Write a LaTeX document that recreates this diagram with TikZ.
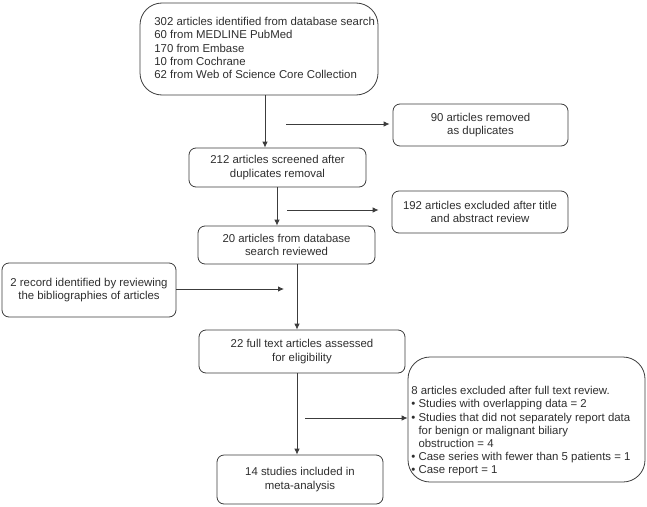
\documentclass[tikz,border=0pt]{standalone}
\usepackage{fontspec}
\setmainfont{Liberation Sans}
\usetikzlibrary{positioning, arrows.meta, calc}
\definecolor{linegray}{HTML}{3C3C3C}
\definecolor{textgray}{HTML}{2E2E2E}

\begin{document}
\begin{tikzpicture}[
		x=1pt, y=-1pt,
		box/.style={draw=linegray, rectangle, rounded corners=7pt, align=center, line width=0.8pt, text=textgray, font=\fontsize{11.4}{13.2}\selectfont, inner sep=0pt},
		bigbox/.style={box, rounded corners=22pt},
		textonly/.style={box, draw=none, anchor=north west, align=left},
		arrow/.style={-{Latex[length=6pt, width=5.5pt]}, draw=linegray, line width=0.8pt}
		]
		\useasboundingbox (0,0) rectangle (647,506);
		
		% Nodes
		\node[bigbox, minimum width=238, minimum height=92] (search) at (259,49) {};
		\node[textonly] (searchtxt) at (154,17) {302 articles identified from database search\\60 from MEDLINE PubMed\\170 from Embase\\10 from Cochrane\\62 from Web of Science Core Collection};
		
		\node[box, minimum width=175, minimum height=42] (dup) at (480.5,125) {90 articles removed\\as duplicates};
		
		\node[box, minimum width=177, minimum height=39] (scr) at (277.5,167.5) {212 articles screened after\\duplicates removal};
		
		\node[box, minimum width=176, minimum height=42] (excl) at (480,212) {192 articles excluded after title\\and abstract review};
		
		\node[box, minimum width=177, minimum height=38] (db) at (286.5,245) {20 articles from database\\search reviewed};
		
		\node[box, minimum width=174, minimum height=54] (rec) at (89,290) {2 record identified by reviewing\\the bibliographies of articles};
		
		\node[box, minimum width=206, minimum height=43] (full) at (302,351.5) {22 full text articles assessed\\for eligibility};
		
		\node[bigbox, minimum width=237, minimum height=125] (excl2) at (526.5,419.5) {};
		\node[textonly] (excl2txt) at (411,386) {8 articles excluded after full text review.\\
			\textbullet\ Studies with overlapping data = 2\\
			\textbullet\ Studies that did not separately report data\\
			\phantom{\textbullet\ }for benign or malignant biliary\\
			\phantom{\textbullet\ }obstruction = 4\\
			\textbullet\ Case series with fewer than 5 patients = 1\\
			\textbullet\ Case report = 1};
		
		\node[box, minimum width=166, minimum height=49] (incl) at (300,479.5) {14 studies included in\\meta-analysis};
		
		% Arrows
		\coordinate (t1) at ([xshift=6pt]search.south);
		\draw[arrow] (t1) -- (t1 |- scr.north);
		\coordinate (t2) at ([xshift=-0.5pt]scr.south);
		\draw[arrow] (t2) -- (t2 |- db.north);
		\coordinate (t3) at ([xshift=10.5pt]db.south);
		\draw[arrow] (t3) -- (t3 |- full.north);
		\coordinate (t4) at ([xshift=-5pt]full.south);
		\draw[arrow] (t4) -- (t4 |- incl.north);
		
		\coordinate (d1) at (286,124);
		\draw[arrow] (d1) -- ([xshift=-3pt]d1 -| dup.west);
		\coordinate (e1) at (287,210);
		\draw[arrow] (e1) -- ([xshift=-13pt]e1 -| excl.west);
		\coordinate (r1) at (284,289);
		\draw[arrow] (rec.east |- r1) -- (r1);
		\coordinate (x1) at (305,418);
		\draw[arrow] (x1) -- (x1 -| excl2.west);
		
	\end{tikzpicture}
\end{document}
